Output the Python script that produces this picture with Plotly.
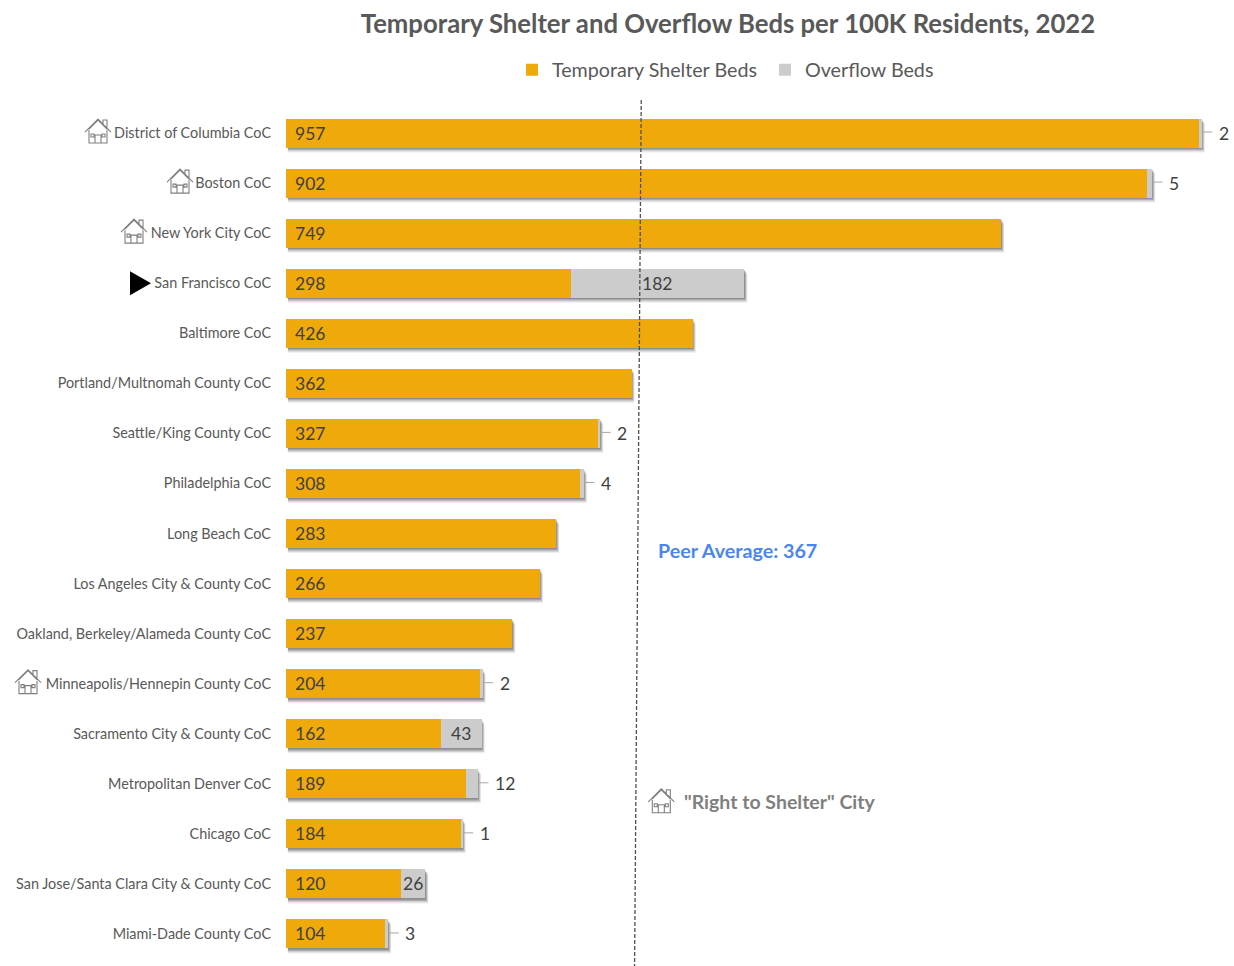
import re
import plotly.graph_objects as go

categories = ["District of Columbia CoC", "Boston CoC", "New York City CoC", "San Francisco CoC",
              "Baltimore CoC", "Portland/Multnomah County CoC", "Seattle/King County CoC",
              "Philadelphia CoC", "Long Beach CoC", "Los Angeles City & County CoC",
              "Oakland, Berkeley/Alameda County CoC", "Minneapolis/Hennepin County CoC",
              "Sacramento City & County CoC", "Metropolitan Denver CoC", "Chicago CoC",
              "San Jose/Santa Clara City & County CoC", "Miami-Dade County CoC"]
temporary_beds = [957, 902, 749, 298, 426, 362, 327, 308, 283, 266, 237, 204, 162, 189, 184, 120, 104]
overflow_beds = [2, 5, 0, 182, 0, 0, 2, 4, 0, 0, 0, 2, 43, 12, 1, 26, 3]
right_to_shelter = ["District of Columbia CoC", "Boston CoC", "New York City CoC",
                    "Minneapolis/Hennepin County CoC"]
house_offsets = {"District of Columbia CoC": -188, "Boston CoC": -106, "New York City CoC": -152,
                 "Minneapolis/Hennepin County CoC": -258}
peer_line_x = [372, 365]
peer_line_y = [-0.66, 16.64]

FONT = "Lato"
ORANGE = "#F0A90A"
GREY = "#CDCCCC"
TEXT = "#595959"
LABEL = "#404040"
idx = list(range(len(categories)))

HOUSE = ("M-13,-1 L0,12 L13,-1 M-9,2 L0,11 L9,2 M5,7 V11 H9 V3 "
         "M-9,1 V-12 H9 V1 M-3,-12 V-4 H3 V-12 "
         "M-7,-3 H-4 V-6 H-7 Z M4,-3 H7 V-6 H4 Z")


def shifted(xoff):
    out, is_x, cmd = [], True, ""
    for tok in re.findall(r"[MLHVZ]|-?\d+", HOUSE):
        if tok.isalpha():
            cmd = tok
            is_x = cmd != "V"
            out.append(tok + " ")
        else:
            v = int(tok)
            out.append(f"{v + xoff if is_x else v} ")
            if cmd in "ML":
                is_x = not is_x
    return "".join(out)


def house(yval, xoff, xref="paper", xanchor=0):
    return dict(type="path", xref=xref, yref="y", xsizemode="pixel", ysizemode="pixel",
                xanchor=xanchor, yanchor=yval, path=shifted(xoff), fillcolor="rgba(0,0,0,0)",
                line=dict(color="#808080", width=1.1), layer="above")


fig = go.Figure()
fig.add_trace(go.Bar(name="Temporary Shelter Beds", y=idx, x=temporary_beds, orientation="h",
                     marker=dict(color=ORANGE, line=dict(width=0))))
fig.add_trace(go.Bar(name="Overflow Beds", y=idx, x=overflow_beds, orientation="h",
                     marker=dict(color=GREY, line=dict(width=0))))
fig.add_trace(go.Scatter(x=peer_line_x, y=peer_line_y, mode="lines", showlegend=False,
                         line=dict(color="#505050", width=1.3, dash="4px,2px")))

shapes, annotations = [], []
HALF = 0.29
for i, (t, o) in enumerate(zip(temporary_beds, overflow_beds)):
    total = t + o
    for dx, dy, op in [(3, 0.10, 0.10), (2.5, 0.075, 0.18), (1.5, 0.05, 0.28), (0.5, 0.025, 0.35)]:
        shapes.append(dict(type="rect", xref="x", yref="y", x0=2, x1=total + dx,
                           y0=i - HALF + dy, y1=i + HALF + dy, layer="below",
                           fillcolor=f"rgba(80,80,80,{op})", line=dict(width=0)))
    annotations.append(dict(x=0, y=i, text=str(t), xanchor="left", xshift=7, showarrow=False,
                            font=dict(family=FONT, size=17.5, color=LABEL)))
    if o >= 20:
        annotations.append(dict(x=t + o / 2, y=i, text=str(o), xanchor="center", showarrow=False,
                                font=dict(family=FONT, size=17.5, color=LABEL)))
    elif o > 0:
        shapes.append(dict(type="line", xref="x", yref="y", x0=total, x1=total + 11, y0=i - 0.02, y1=i - 0.02,
                           line=dict(color="#a6a6a6", width=1), layer="above"))
        annotations.append(dict(x=total, y=i, text=str(o), xanchor="left", xshift=15,
                                showarrow=False, font=dict(family=FONT, size=17.5, color=LABEL)))

# y axis line
shapes.append(dict(type="line", xref="x", yref="y", x0=-1, x1=-1, y0=-0.5, y1=16.5,
                   line=dict(color="#d9d9d9", width=1), layer="above"))

for c in right_to_shelter:
    shapes.append(house(categories.index(c) - 0.04, house_offsets[c]))
shapes.append(house(13.34, 0, xref="x", xanchor=393))
# San Francisco marker
sf = categories.index("San Francisco CoC")
shapes.append(dict(type="path", xref="paper", yref="y", xsizemode="pixel", ysizemode="pixel", xanchor=0, yanchor=sf,
                   path="M-156,12 L-135,0 L-156,-12 Z", fillcolor="#000000", line=dict(width=0), layer="above"))

annotations.append(dict(x=387.5, y=8.33, text="<b>Peer Average: 367</b>", xanchor="left", showarrow=False,
                        font=dict(family=FONT, size=19.7, color="#4A86F0")))
annotations.append(dict(x=415, y=13.36, text='<b>"Right to Shelter" City</b>', xanchor="left", showarrow=False,
                        font=dict(family=FONT, size=19.5, color="#7F7F7F")))

fig.update_layout(
    width=1234, height=966, barmode="stack", bargap=0.42,
    margin=dict(l=286, r=0, t=100, b=0, autoexpand=False),
    paper_bgcolor="white", plot_bgcolor="white",
    font=dict(family=FONT, color=TEXT),
    title=dict(text="<b>Temporary Shelter and Overflow Beds per 100K Residents, 2022</b>",
               x=728 / 1234, xref="container", xanchor="center",
               y=1 - 24 / 966, yref="container", yanchor="middle",
               font=dict(family=FONT, size=25.7, color="#595959")),
    legend=dict(orientation="h", x=512 / 1234, xref="container", xanchor="left",
                y=1 - 70 / 966, yref="container", yanchor="middle",
                font=dict(family=FONT, size=19.7, color=TEXT), traceorder="normal",
                entrywidth=208, entrywidthmode="pixels", bgcolor="rgba(0,0,0,0)"),
    xaxis=dict(range=[0, 992.7], visible=False, fixedrange=True),
    yaxis=dict(range=[16.64, -0.66], tickmode="array", tickvals=idx, ticktext=categories,
               showgrid=False, zeroline=False, showline=False, ticks="", ticklabelstandoff=14,
               tickfont=dict(family=FONT, size=14.4, color=TEXT), fixedrange=True),
    shapes=shapes, annotations=annotations,
)
# Drop the browser's default page margin so the 1234x966 figure fills the window exactly.
fig.write_html("out.html", config={"displayModeBar": False},
               post_script="document.body.style.margin='0';")
